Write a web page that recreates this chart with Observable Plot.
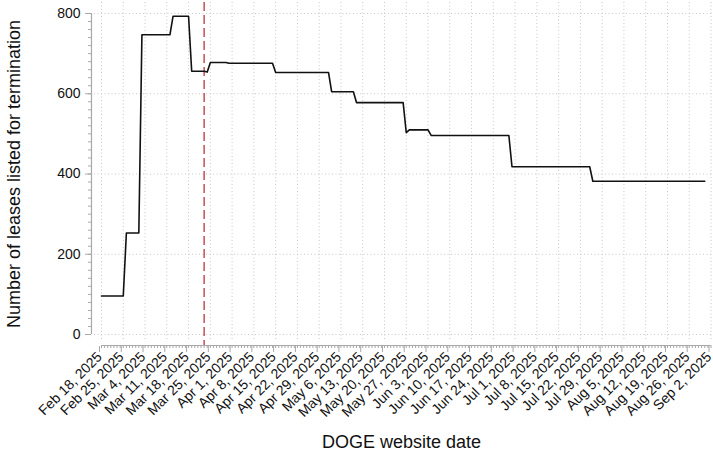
<!DOCTYPE html>
<html>
<head>
<meta charset="utf-8">
<script src="https://cdn.jsdelivr.net/npm/d3@7"></script>
<script src="https://cdn.jsdelivr.net/npm/@observablehq/plot@0.6"></script>
<style>
  html, body { margin: 0; padding: 0; background: #fff; }
  #chart svg { display: block; }
</style>
</head>
<body>
<div id="chart"></div>
<script>
// Vertices of the daily series (date, leases listed)
const dates = ["2025-02-18","2025-02-25","2025-02-26","2025-03-02","2025-03-03","2025-03-12","2025-03-13","2025-03-18","2025-03-19","2025-03-23","2025-03-24","2025-03-25","2025-03-30","2025-03-31","2025-04-14","2025-04-15","2025-05-02","2025-05-03","2025-05-10","2025-05-11","2025-05-26","2025-05-27","2025-05-28","2025-06-03","2025-06-04","2025-06-29","2025-06-30","2025-07-25","2025-07-26","2025-08-31"];
const leases = [96,96,253,253,747,747,793,793,656,656,654,678,678,676,676,653,653,605,605,578,578,503,510,510,496,496,418,418,382,382];
const markerDate = "2025-03-23";
const xStart = "2025-02-18";
const xEnd = "2025-09-02";
const yTicks = [0, 200, 400, 600, 800];
const yLabel = "Number of leases listed for termination";
const xLabel = "DOGE website date";

const parse = d3.utcParse("%Y-%m-%d");
const data = dates.map((d, i) => ({date: parse(d), value: leases[i]}));
const x0 = parse(xStart), x1 = parse(xEnd);
const weekTicks = d3.range(0, 29).map(i => d3.utcDay.offset(x0, 7 * i));
const dayTicks = d3.utcDay.range(x0, d3.utcDay.offset(x1, 1));
const minorY = d3.range(0, 801, 20);
const fmt = d3.utcFormat("%b %-d, %Y");

const gridStyle = {stroke: "#c8c8c8", strokeOpacity: 1, strokeDasharray: "1,2.5", strokeWidth: 1};

const chart = Plot.plot({
  width: 713,
  height: 454,
  marginTop: 2,
  marginRight: 2,
  marginBottom: 109,
  marginLeft: 91,
  style: {fontFamily: "'Liberation Sans', Arial, Helvetica, sans-serif", fontSize: "14px", color: "#111", background: "#fff"},
  x: {type: "utc", domain: [x0, x1], range: [101, 710.5]},
  y: {domain: [0, 800], range: [334, 13]},
  marks: [
    Plot.gridY(yTicks, {...gridStyle, insetLeft: 3}),
    Plot.gridX(weekTicks, {...gridStyle, insetBottom: 6}),
    // axis lines (offset from the data region, Stata-like)
    Plot.ruleY([0], {x1: x0, x2: x1, dy: 11, stroke: "#a8a8a8", strokeWidth: 1.2}),
    Plot.ruleX([x0], {y1: 0, y2: 800, dx: -10, stroke: "#a8a8a8", strokeWidth: 1.2}),
    // y axis
    Plot.axisY(minorY, {tickSize: 3, tickFormat: () => "", stroke: "#a8a8a8", label: null}),
    Plot.axisY(yTicks, {tickSize: 6, tickPadding: 5, stroke: "#a8a8a8", label: null, fontSize: 14, fill: "#111"}),
    Plot.axisY([], {label: yLabel, labelAnchor: "center", labelArrow: "none", labelOffset: 84, fontSize: 18, fill: "#111", tickSize: 0}),
    // x axis
    Plot.axisX(dayTicks, {tickSize: 3, tickFormat: () => "", stroke: "#a8a8a8", label: null}),
    Plot.axisX(weekTicks, {tickSize: 6, tickPadding: 2, tickRotate: -45, tickFormat: fmt, stroke: "#a8a8a8", label: null, fontSize: 14, fill: "#111", textStroke: "none", dx: -2, dy: 1}),
    Plot.axisX([], {label: xLabel, labelAnchor: "center", labelArrow: "none", labelOffset: 102, fontSize: 18, fill: "#111", tickSize: 0}),
    // marker
    Plot.ruleX([parse(markerDate)], {stroke: "#b8232b", strokeWidth: 1.2, strokeDasharray: "9,4"}),
    // series
    Plot.line(data, {x: "date", y: "value", stroke: "#111", strokeWidth: 1.6, curve: "linear"})
  ]
});
document.getElementById("chart").appendChild(chart);
</script>
</body>
</html>
